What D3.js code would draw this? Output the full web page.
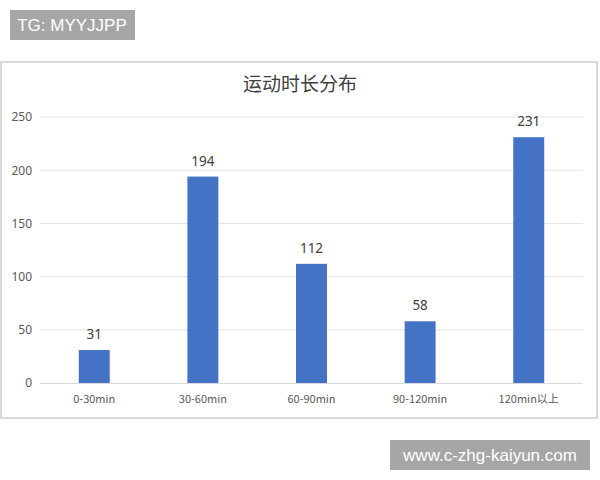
<!DOCTYPE html>
<html>
<head>
<meta charset="utf-8">
<script src="https://cdn.jsdelivr.net/npm/d3@7"></script>
<style>
  body { margin: 0; background: #fff; }
  text { font-family: "Noto Sans CJK SC", "Noto Sans", sans-serif; }
</style>
</head>
<body>
<script>
(function() {

    var categories = ['0-30min', '30-60min', '60-90min', '90-120min', '120min以上']; // x labels
    var values = [31, 194, 112, 58, 231]; // counts
    var yTicks = [0, 50, 100, 150, 200, 250];
    var title = '运动时长分布';

    var W = 600, H = 480;

    var svg = d3.select('body').append('svg')
        .attr('width', W)
        .attr('height', H);

    // chart frame
    svg.append('rect')
        .attr('x', 1).attr('y', 62)
        .attr('width', 596).attr('height', 356)
        .attr('fill', '#fff')
        .attr('stroke', '#d9d9d9')
        .attr('stroke-width', 2);

    var x = d3.scaleBand()
        .domain(categories)
        .range([40, 583])
        .paddingInner(0.715)
        .paddingOuter(0.357);

    var y = d3.scaleLinear()
        .domain([0, 250])
        .range([383, 117]);

    // gridlines
    svg.append('g').selectAll('line')
        .data(yTicks.filter(function(d) { return d > 0; }))
        .enter().append('line')
        .attr('x1', 40).attr('x2', 583)
        .attr('y1', function(d) { return y(d); })
        .attr('y2', function(d) { return y(d); })
        .attr('stroke', '#e4e4e4')
        .attr('stroke-width', 1);

    // y axis labels
    var yAxis = svg.append('g')
        .attr('transform', 'translate(32,0)')
        .call(d3.axisLeft(y).tickValues(yTicks).tickSize(0).tickPadding(0));
    yAxis.select('.domain').remove();
    yAxis.selectAll('text')
        .attr('fill', '#595959')
        .style('font-size', '12px')
        .style('font-family', '"Noto Sans", sans-serif');

    // bars
    svg.append('g').selectAll('rect')
        .data(values)
        .enter().append('rect')
        .attr('x', function(d, i) { return x(categories[i]); })
        .attr('y', function(d) { return y(d); })
        .attr('width', x.bandwidth())
        .attr('height', function(d) { return y(0) - y(d); })
        .attr('fill', '#4472c4');

    // value labels
    svg.append('g').selectAll('text')
        .data(values)
        .enter().append('text')
        .attr('x', function(d, i) { return x(categories[i]) + x.bandwidth() / 2; })
        .attr('y', function(d) { return y(d) - 11; })
        .attr('text-anchor', 'middle')
        .attr('fill', '#404040')
        .style('font-size', '13.5px')
        .style('font-family', '"Noto Sans", sans-serif')
        .text(function(d) { return d; });

    // x axis
    var xAxis = svg.append('g')
        .attr('transform', 'translate(0,383)')
        .call(d3.axisBottom(x).tickSize(0).tickPadding(12));
    xAxis.select('.domain')
        .attr('d', 'M40,0.5H583')
        .attr('stroke', '#d9d9d9');
    xAxis.selectAll('text')
        .attr('fill', '#595959')
        .style('font-size', '11px');

    // title
    svg.append('text')
        .attr('x', 300).attr('y', 91)
        .attr('text-anchor', 'middle')
        .attr('fill', '#404040')
        .style('font-size', '19px')
        .text(title);

    // overlay tags
    svg.append('rect')
        .attr('x', 10).attr('y', 10).attr('width', 125).attr('height', 30)
        .attr('fill', '#a6a6a6');
    svg.append('text')
        .attr('x', 72).attr('y', 31)
        .attr('text-anchor', 'middle')
        .attr('fill', '#fff')
        .style('font-size', '17px')
        .style('font-family', '"Liberation Sans", sans-serif')
        .text('TG: MYYJJPP');

    svg.append('rect')
        .attr('x', 390).attr('y', 440).attr('width', 200).attr('height', 30)
        .attr('fill', '#a6a6a6');
    svg.append('text')
        .attr('x', 490).attr('y', 461)
        .attr('text-anchor', 'middle')
        .attr('fill', '#fff')
        .style('font-size', '17px')
        .style('font-family', '"Liberation Sans", sans-serif')
        .text('www.c-zhg-kaiyun.com');

})();
</script>
</body>
</html>
